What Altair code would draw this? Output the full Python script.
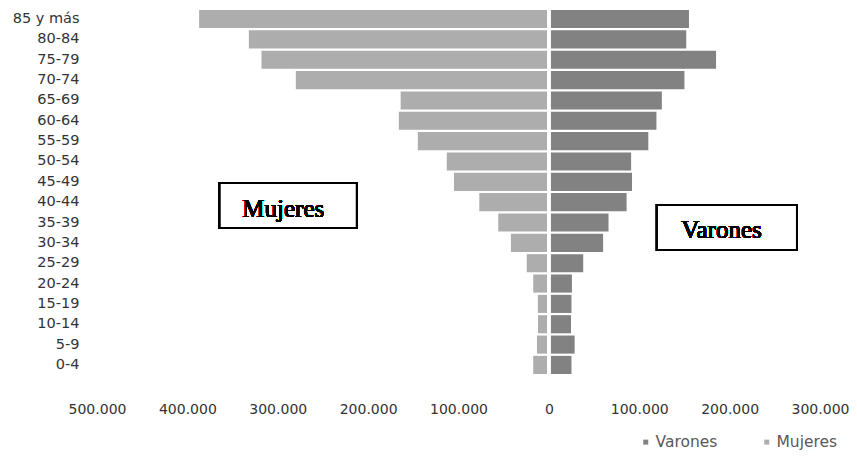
import altair as alt
import pandas as pd

ages = ["85 y más", "80-84", "75-79", "70-74", "65-69", "60-64", "55-59", "50-54", "45-49",
        "40-44", "35-39", "30-34", "25-29", "20-24", "15-19", "10-14", "5-9", "0-4"]
varones = [155000, 152000, 185000, 150000, 125000, 119000, 110000, 91000, 92000,
           86000, 66000, 60000, 38000, 25500, 25000, 24500, 28500, 25000]
mujeres = [387000, 332000, 318000, 280000, 164000, 166000, 145000, 113000, 105000,
           77000, 56000, 42000, 24500, 17300, 12200, 12000, 13200, 17300]
tick_values = [-500000, -400000, -300000, -200000, -100000, 0, 100000, 200000, 300000]
series = ["Varones", "Mujeres"]
colors = ["#828282", "#adadad"]

rows = []
for a, v, m in zip(ages, varones, mujeres):
    rows.append({"edad": a, "sexo": "Varones", "valor": v})
    rows.append({"edad": a, "sexo": "Mujeres", "valor": -m})
df = pd.DataFrame(rows)

xscale = alt.Scale(domain=[-500000, 300000], nice=False, zero=False)

bars = alt.Chart(df).mark_bar().encode(
    x=alt.X("valor:Q", scale=xscale,
            axis=alt.Axis(values=tick_values, title=None, grid=False, domain=False, ticks=False,
                          labelExpr="replace(format(abs(datum.value), ','), ',', '.')",
                          labelFont="DejaVu Sans", labelFontSize=14, labelColor="#333333",
                          labelPadding=27, labelFlush=False, labelOverlap=False,
                          labelBound=False)),
    y=alt.Y("edad:N", sort=ages,
            scale=alt.Scale(paddingInner=0.11, paddingOuter=0.05),
            axis=alt.Axis(title=None, domain=False, ticks=False, labelFont="DejaVu Sans",
                          labelFontSize=14.5, labelColor="#333333", labelPadding=18)),
    color=alt.Color("sexo:N", scale=alt.Scale(domain=series, range=colors),
                    legend=alt.Legend(title=None, orient="none", legendX=541, legendY=425,
                                      direction="horizontal", symbolType="square",
                                      symbolSize=25, labelFont="DejaVu Sans",
                                      labelFontSize=15.5, labelColor="#595959",
                                      columnPadding=41, labelOffset=2)),
)

divider = alt.Chart(df).mark_rule(color="white", strokeWidth=2.5).encode(x=alt.datum(0))

box_m = alt.Chart(df).mark_rect(fill="white", stroke="black", strokeWidth=2).encode(
    x=alt.datum(-364200), x2=alt.datum(-212600), y=alt.value(174), y2=alt.value(219))
text_m = alt.Chart(df).mark_text(font="Liberation Serif", fontSize=25, color="black",
                                 baseline="alphabetic", align="center").encode(
    x=alt.datum(-293900), y=alt.value(208), text=alt.value("Mujeres"))

box_v = alt.Chart(df).mark_rect(fill="white", stroke="black", strokeWidth=2).encode(
    x=alt.datum(119600), x2=alt.datum(274500), y=alt.value(196), y2=alt.value(241))
text_v = alt.Chart(df).mark_text(font="Liberation Serif", fontSize=25, color="black",
                                 baseline="alphabetic", align="center").encode(
    x=alt.datum(191000), y=alt.value(229), text=alt.value("Varones"))

chart = alt.layer(bars, divider, box_m, text_m, box_v, text_v).properties(
    width=723, height=366,
    autosize=alt.AutoSizeParams(type="none"),
    padding={"left": 89, "right": 29, "top": 1, "bottom": 76},
).configure_view(stroke=None)

chart.save("out.html", embed_options={"renderer": "svg", "actions": False})
